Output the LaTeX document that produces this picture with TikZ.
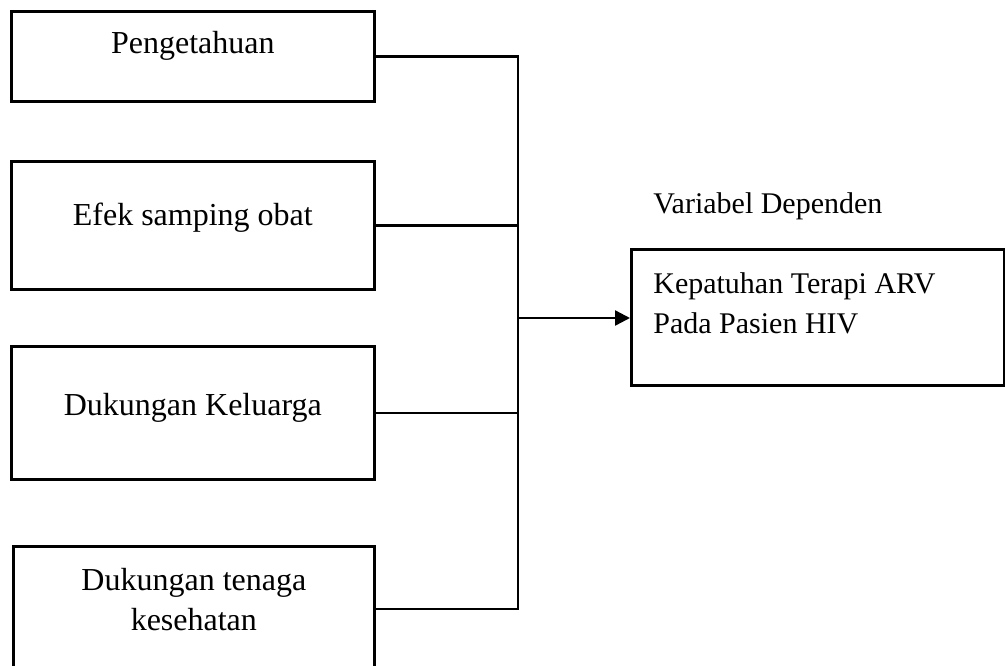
\documentclass[tikz,border=0pt]{standalone}
\usepackage{fontspec}
\setmainfont{Liberation Serif}
\usetikzlibrary{arrows.meta}

\begin{document}
\begin{tikzpicture}[x=1pt,y=-1pt,line width=2.7pt,
  kotak/.style={draw,inner sep=0pt,minimum width=363pt,anchor=north west},
  teks/.style={font=\fontsize{32}{40}\selectfont,inner sep=0pt},
  teksdep/.style={font=\fontsize{30}{40}\selectfont,inner sep=0pt}]
				%%%%% START %%%%%
				\def\xl{10}
				\def\xv{518}
				\def\ya{318}
				
				\useasboundingbox (0,0) rectangle (1005,665);
				\clip (0,0) rectangle (1005,665);
				
				% variabel independen
				\node[kotak,minimum height=90pt] (peng) at (\xl,10) {};
				\node[kotak,minimum height=128pt] (efek) at (\xl,160) {};
				\node[kotak,minimum height=133pt] (kel) at (\xl,345) {};
				\node[kotak,minimum height=125pt,minimum width=361pt] (nakes) at (\xl+2,545) {};
				
				\node[teks] (tpeng) at (peng.center |- 0,46) {Pengetahuan};
				\node[teks] (tefek) at (efek.center |- 0,218) {Efek samping obat};
				\node[teks] (tkel) at (kel.center |- 0,408) {Dukungan Keluarga};
				\node[teks,align=center] (tnakes) at (nakes.center |- 0,600) {Dukungan tenaga\\kesehatan};
				
				% variabel dependen
				\node[teksdep,anchor=west] (judul) at (652,206) {Variabel Dependen};
				\node[kotak,minimum width=373pt,minimum height=136pt] (dep) at (630,248) {};
				\node[teksdep,anchor=west,align=left] (tdep) at (652,303) {Kepatuhan Terapi ARV\\Pada Pasien HIV};
				
				% garis penghubung
				\coordinate (atas) at (\xv,0);
				\coordinate (cabang) at (\xv,\ya);
				\draw (peng.east) -- (peng.east -| atas) -- (nakes.east -| atas) -- (nakes.east);
				\draw (efek.east) -- (efek.east -| atas);
				\draw (kel.east) -- (kel.east -| atas);
				\draw[line width=2.4pt,-{Triangle[length=15pt,width=15pt]}] (cabang) -- (cabang -| dep.west);
				%%%%% END %%%%%
\end{tikzpicture}
\end{document}
